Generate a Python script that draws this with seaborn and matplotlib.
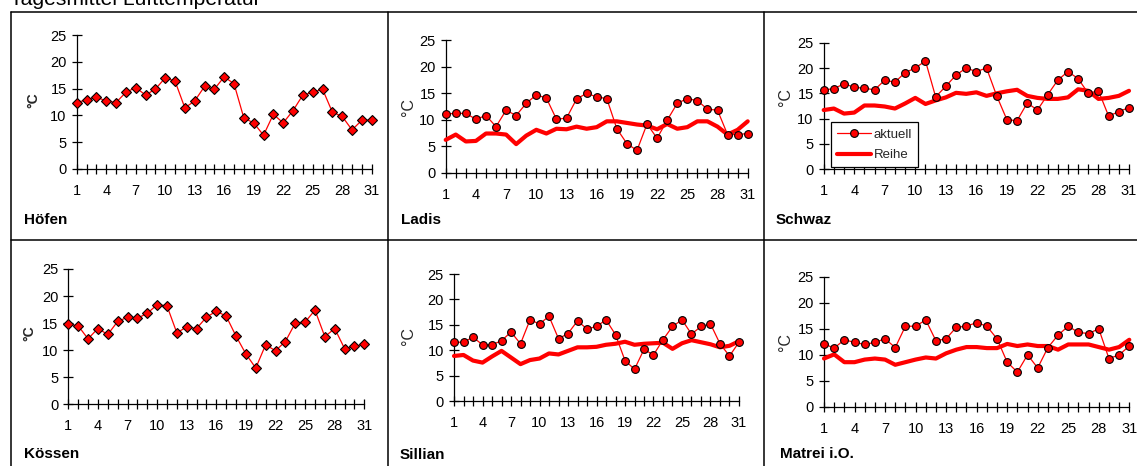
import matplotlib
matplotlib.use("Agg")
import matplotlib.pyplot as plt
import seaborn as sns
from matplotlib.lines import Line2D

# ---------------- data ----------------
days = list(range(1, 32))
day_labels = [str(d) if (d - 1) % 3 == 0 else "" for d in days]
y_ticks = [0, 5, 10, 15, 20, 25]

title = "Tagesmittel Lufttemperatur"
series_names = ["aktuell", "Reihe"]
stations = ["Höfen", "Ladis", "Schwaz", "Kössen", "Sillian", "Matrei i.O."]

hoefen_akt = [12.4, 12.9, 13.4, 12.7, 12.4, 14.3, 15.2, 13.8, 14.9, 17.0, 16.4,
              11.4, 12.7, 15.4, 14.9, 17.2, 15.9, 9.5, 8.6, 6.3, 10.2, 8.6,
              10.9, 13.8, 14.3, 14.9, 10.6, 9.8, 7.3, 9.1, 9.1]

ladis_akt = [11.1, 11.2, 11.2, 10.1, 10.8, 8.7, 11.8, 10.8, 13.1, 14.7, 14.1,
             10.1, 10.3, 13.9, 15.0, 14.3, 14.0, 8.3, 5.5, 4.2, 9.2, 6.5,
             9.9, 13.1, 14.0, 13.6, 12.0, 11.8, 7.2, 7.2, 7.4]
ladis_reihe = [6.2, 7.2, 5.9, 6.0, 7.4, 7.4, 7.2, 5.4, 7.0, 8.1, 7.4,
               8.3, 8.2, 8.7, 8.3, 8.6, 9.7, 9.7, 9.4, 9.1, 8.9, 8.2,
               9.2, 8.3, 8.6, 9.7, 9.7, 8.7, 7.2, 8.1, 9.7]

schwaz_akt = [15.7, 15.9, 16.9, 16.2, 16.0, 15.7, 17.6, 17.2, 19.1, 20.0, 21.4,
              14.3, 16.4, 18.6, 20.0, 19.3, 20.0, 14.5, 9.8, 9.6, 13.1, 11.7,
              14.7, 17.6, 19.3, 17.9, 15.0, 15.5, 10.5, 11.4, 12.2]
schwaz_reihe = [11.7, 12.0, 11.0, 11.2, 12.6, 12.6, 12.4, 12.0, 13.0, 14.1, 12.9,
                13.6, 14.2, 15.1, 14.9, 15.2, 14.5, 15.0, 15.4, 15.7, 14.5, 14.1,
                13.9, 13.9, 14.2, 15.8, 15.5, 13.9, 14.1, 14.5, 15.5]

koessen_akt = [14.8, 14.5, 12.1, 14.0, 12.9, 15.3, 16.1, 15.9, 16.8, 18.4, 18.2,
               13.2, 14.3, 14.0, 16.1, 17.2, 16.3, 12.6, 9.3, 6.7, 11.0, 9.9,
               11.6, 15.0, 15.2, 17.4, 12.5, 14.0, 10.3, 10.7, 11.1]

sillian_akt = [11.6, 11.6, 12.6, 11.1, 11.1, 11.9, 13.6, 11.3, 16.0, 15.2, 16.7,
               12.3, 13.3, 15.8, 14.2, 14.7, 16.0, 13.1, 8.0, 6.3, 10.2, 9.1,
               12.1, 14.7, 16.0, 13.2, 14.7, 15.2, 11.3, 8.9, 11.6]
sillian_reihe = [8.9, 9.1, 8.0, 7.6, 8.8, 9.9, 8.6, 7.3, 8.1, 8.4, 9.4,
                 9.2, 9.9, 10.6, 10.6, 10.7, 11.1, 11.3, 11.7, 11.1, 11.3, 11.4,
                 11.5, 10.3, 11.4, 12.0, 11.6, 11.2, 10.6, 10.9, 11.8]

matrei_akt = [12.1, 11.3, 12.9, 12.4, 12.0, 12.4, 13.1, 11.4, 15.5, 15.5, 16.7,
              12.7, 13.1, 15.3, 15.5, 16.2, 15.5, 13.1, 8.6, 6.7, 10.0, 7.5,
              11.4, 13.8, 15.5, 14.3, 14.1, 15.0, 9.3, 10.0, 11.7]
matrei_reihe = [9.3, 10.1, 8.6, 8.6, 9.1, 9.3, 9.1, 8.1, 8.6, 9.1, 9.5,
                9.3, 10.3, 11.0, 11.5, 11.5, 11.3, 11.3, 12.1, 11.7, 12.0, 11.7,
                11.7, 11.0, 12.0, 12.0, 12.0, 11.5, 11.0, 11.5, 12.9]

aktuell = [hoefen_akt, ladis_akt, schwaz_akt, koessen_akt, sillian_akt, matrei_akt]
reihe = [None, ladis_reihe, schwaz_reihe, None, sillian_reihe, matrei_reihe]

# ---------------- style ----------------
sns.set_style("white")
plt.rcParams["font.family"] = ["Liberation Sans", "DejaVu Sans"]

W, H = 1137, 466
fig = plt.figure(figsize=(W / 100, H / 100), dpi=100)
fig.patch.set_facecolor("white")

def fx(x):
    return x / W

def fy(y):
    return 1 - y / H

# axes boxes in pixels: (x_left, x_right, y_top, y_bottom)
boxes = [
    (76.7, 371.7, 35.0, 169.0),
    (445.7, 747.7, 40.3, 172.7),
    (823.7, 1129.0, 42.7, 169.3),
    (68.3, 364.3, 269.0, 404.3),
    (454.0, 739.0, 274.0, 401.3),
    (824.0, 1129.3, 276.7, 407.0),
]
markers = ["D", "o", "o", "D", "o", "o"]
ylabel_bold = [True, False, False, True, False, False]
ylabel_center = [(32, 100), (408, 107), (785, 97), (28, 333), (408, 336), (785, 342)]
name_pos = [(24, 224), (401.5, 224), (776, 224), (24, 458), (400, 459), (780, 458.5)]

RED = "#ff0000"

for i in range(6):
    x0, x1, yt, yb = boxes[i]
    ax = fig.add_axes([fx(x0), fy(yb), fx(x1 - x0), (yb - yt) / H])
    ax.set_facecolor("none")
    mk = markers[i]
    ms = 5.0 if mk == "D" else 5.6
    sns.lineplot(x=days, y=aktuell[i], ax=ax, color=RED, lw=0.9,
                 marker=mk, markersize=ms, markerfacecolor=RED,
                 markeredgecolor="black", markeredgewidth=0.8,
                 clip_on=False, zorder=4, label=series_names[0])
    if reihe[i] is not None:
        sns.lineplot(x=days, y=reihe[i], ax=ax, color=RED, lw=3.0,
                     clip_on=False, zorder=3, label=series_names[1])
    ax.set_xlim(1, 31)
    ax.set_ylim(0, 25)
    ax.set_xticks(days)
    ax.set_xticklabels(day_labels)
    ax.set_yticks(y_ticks)
    ax.set_yticklabels([str(v) for v in y_ticks])
    sns.despine(ax=ax)
    for s in ("left", "bottom"):
        ax.spines[s].set_color("black")
        ax.spines[s].set_linewidth(0.9)
    ax.tick_params(axis="both", which="major", bottom=True, left=True,
                   top=False, right=False, direction="inout", length=6.5,
                   width=0.9, color="black", labelcolor="black", labelsize=10.5)
    ax.tick_params(axis="x", pad=7.5)
    ax.tick_params(axis="y", pad=4.0)
    ax.grid(False)

    bold = ylabel_bold[i]
    ax.set_ylabel("°C", fontsize=10 if bold else 11.5,
                  fontweight="bold" if bold else "normal")
    cx, cy = ylabel_center[i]
    ax.yaxis.set_label_coords(fx(cx + 8), fy(cy), transform=fig.transFigure)
    ax.set_xlabel("")

    if i == 2:
        ax.legend(loc="lower left", bbox_to_anchor=(0.024, 0.016),
                  borderaxespad=0, frameon=True, fancybox=False,
                  edgecolor="black", framealpha=1, fontsize=9.5,
                  handlelength=2.6, handletextpad=0.2, borderpad=0.45,
                  labelspacing=0.65)
        ax.get_legend().get_frame().set_linewidth(0.9)
    else:
        leg = ax.get_legend()
        if leg is not None:
            leg.remove()

    nx, ny = name_pos[i]
    fig.text(fx(nx), fy(ny), stations[i], fontsize=11, fontweight="bold",
             ha="left", va="baseline", color="black")

# title (partly cut at the top, like the reference)
fig.text(fx(10), fy(4.7), title, fontsize=15.2, ha="left", va="baseline",
         color="black")

# frame grid lines
frame_kw = dict(color="black", lw=1.1, transform=fig.transFigure)
fig.add_artist(Line2D([fx(10.5), 1], [fy(11.5), fy(11.5)], **frame_kw))
fig.add_artist(Line2D([fx(10.5), 1], [fy(240), fy(240)], **frame_kw))
for xv in (10.5, 388, 764):
    fig.add_artist(Line2D([fx(xv), fx(xv)], [fy(11.5), 0], **frame_kw))

fig.savefig("out.png", dpi=100, facecolor="white")
